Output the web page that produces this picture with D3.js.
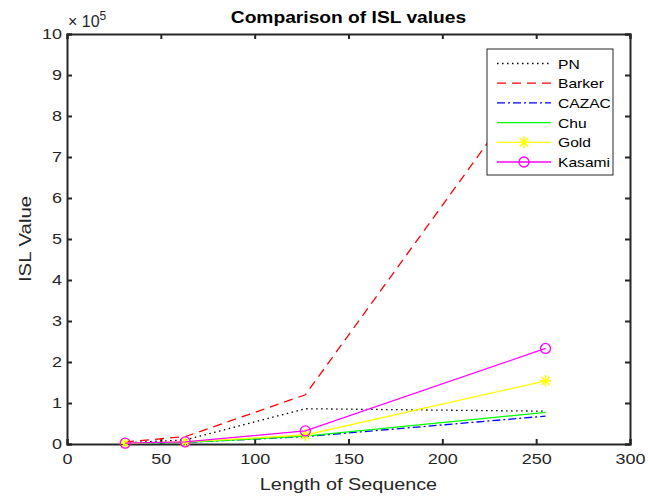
<!DOCTYPE html>
<html>
<head>
<meta charset="utf-8">
<script src="https://cdn.jsdelivr.net/npm/d3@7"></script>
<style>
  body { margin: 0; background: #fff; }
  svg { font-family: "Liberation Sans", Arial, Helvetica, sans-serif; }
</style>
</head>
<body>
<svg id="chart" width="648" height="496"></svg>
<script>
// sequence lengths
var lengths = [31, 63, 127, 255];
// ISL values (raw)
var pnVals     = [3000, 10000, 86000, 80000];
var barkerVals = [5000, 18000, 120000, 930000];
var cazacVals  = [1000, 4000, 18000, 68000];
var chuVals    = [1000, 4000, 19000, 77000];
var goldVals   = [2000, 5000, 22000, 154000];
var kasamiVals = [2000, 5000, 32000, 233000];

var xTicks = [0, 50, 100, 150, 200, 250, 300];
var yTicks = [0, 1, 2, 3, 4, 5, 6, 7, 8, 9, 10];

var series = [
  { name: 'PN',     vals: pnVals,     color: '#000000', dash: '1.5,3.5', marker: null },
  { name: 'Barker', vals: barkerVals, color: '#ff0000', dash: '9,6',     marker: null },
  { name: 'CAZAC',  vals: cazacVals,  color: '#0000ff', dash: '8,3,2,3', marker: null },
  { name: 'Chu',    vals: chuVals,    color: '#00ff00', dash: null,      marker: null },
  { name: 'Gold',   vals: goldVals,   color: '#ffff00', dash: null,      marker: 'star' },
  { name: 'Kasami', vals: kasamiVals, color: '#ff00ff', dash: null,      marker: 'circle' }
];

var svg = d3.select('#chart');
var L = 67, R = 630, T = 34, B = 444;
var axisColor = '#262626';
var stretch = 1.2; // the picture's text is a bit wide

var x = d3.scaleLinear().domain([0, 300]).range([L, R]);
var y = d3.scaleLinear().domain([0, 10]).range([B, T]);

// axes
var gx = svg.append('g').attr('transform', 'translate(0,' + B + ')')
  .call(d3.axisBottom(x).tickValues(xTicks).tickSize(-5).tickPadding(9));
var gy = svg.append('g').attr('transform', 'translate(' + L + ',0)')
  .call(d3.axisLeft(y).tickValues(yTicks).tickSize(-5).tickPadding(5));
var gxt = svg.append('g').attr('transform', 'translate(0,' + T + ')')
  .call(d3.axisTop(x).tickValues(xTicks).tickSize(-5).tickFormat(''));
var gyr = svg.append('g').attr('transform', 'translate(' + R + ',0)')
  .call(d3.axisRight(y).tickValues(yTicks).tickSize(-5).tickFormat(''));

[gx, gy, gxt, gyr].forEach(function(g) {
  g.select('.domain').attr('stroke', axisColor).attr('stroke-width', 2);
  g.selectAll('.tick line').attr('stroke', axisColor).attr('stroke-width', 2);
  g.selectAll('.tick text').attr('fill', axisColor).style('font-size', '15px')
    .style('font-family', '"Liberation Sans", Arial, sans-serif');
});

// lines
var line = d3.line()
  .x(function(d, i) { return x(lengths[i]); })
  .y(function(d) { return y(d / 1e5); });

var plot = svg.append('g');
series.forEach(function(s) {
  plot.append('path')
    .datum(s.vals)
    .attr('d', line)
    .attr('fill', 'none')
    .attr('stroke', s.color)
    .attr('stroke-width', 1.3)
    .attr('stroke-dasharray', s.dash);
  if (s.marker) {
    s.vals.forEach(function(v, i) {
      drawMarker(plot, s.marker, x(lengths[i]), y(v / 1e5), s.color);
    });
  }
});

function drawMarker(g, type, cx, cy, color) {
  if (type === 'circle') {
    g.append('circle').attr('cx', cx).attr('cy', cy).attr('r', 5)
      .attr('fill', 'none').attr('stroke', color).attr('stroke-width', 1.3);
  } else {
    var r = 6;
    var m = g.append('g').attr('transform', 'translate(' + cx + ',' + cy + ')')
      .attr('stroke', color).attr('stroke-width', 1.5);
    m.append('line').attr('x1', -r).attr('x2', r).attr('y1', 0).attr('y2', 0);
    m.append('line').attr('x1', 0).attr('x2', 0).attr('y1', -r).attr('y2', r);
    m.append('line').attr('x1', -r * 0.7).attr('x2', r * 0.7).attr('y1', -r * 0.7).attr('y2', r * 0.7);
    m.append('line').attr('x1', -r * 0.7).attr('x2', r * 0.7).attr('y1', r * 0.7).attr('y2', -r * 0.7);
  }
}

// exponent label
var ex = svg.append('text').attr('x', L + 1).attr('y', 27).attr('fill', axisColor)
  .attr('class', 'nostretch').style('font-size', '16px');
ex.append('tspan').text('\u00d7 10');
ex.append('tspan').attr('dy', -7).style('font-size', '12px').text('5');

// title & axis labels
svg.append('text').attr('x', (L + R) / 2).attr('y', 23).attr('text-anchor', 'middle')
  .style('font-size', '16px').style('font-weight', 'bold').attr('fill', '#000')
  .text('Comparison of ISL values');
svg.append('text').attr('x', (L + R) / 2).attr('y', 490).attr('text-anchor', 'middle')
  .style('font-size', '16.5px').attr('fill', axisColor).text('Length of Sequence');
svg.append('text').attr('transform', 'translate(31,' + ((T + B) / 2) + ') rotate(-90)')
  .attr('text-anchor', 'middle').style('font-size', '17px').attr('fill', axisColor)
  .text('ISL Value');

// legend
var lg = svg.append('g').attr('transform', 'translate(487,49)');
lg.append('rect').attr('width', 126).attr('height', 126)
  .attr('fill', '#fff').attr('stroke', axisColor).attr('stroke-width', 1);
series.forEach(function(s, i) {
  var ly = 14.5 + i * 19.7;
  lg.append('line').attr('x1', 10).attr('x2', 64).attr('y1', ly).attr('y2', ly)
    .attr('stroke', s.color).attr('stroke-width', 1.3).attr('stroke-dasharray', s.dash);
  if (s.marker) drawMarker(lg, s.marker, 37, ly, s.color);
  lg.append('text').attr('x', 71).attr('y', ly + 5).style('font-size', '13px')
    .attr('fill', '#000').text(s.name);
});

// widen the glyphs like the picture
svg.selectAll('text').each(function() {
  var t = d3.select(this);
  if (t.classed('nostretch')) return;
  var w = this.getComputedTextLength();
  t.attr('textLength', w * stretch).attr('lengthAdjust', 'spacingAndGlyphs');
});
</script>
</body>
</html>
